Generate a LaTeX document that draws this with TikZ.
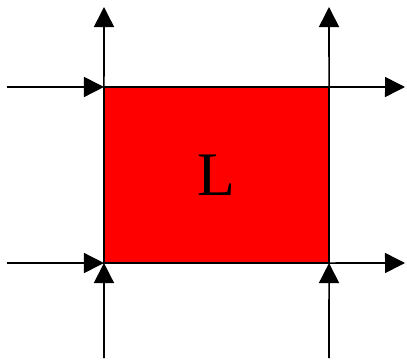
\documentclass[tikz,border=0pt]{standalone}
\usepackage{fontspec}
\setmainfont{Liberation Serif}
\usetikzlibrary{arrows.meta,positioning}

\begin{document}
\begin{tikzpicture}[
  x=0.025cm, y=-0.025cm,
  cell/.style={draw=black, fill=red, line width=1.1pt, minimum width=5.625cm, minimum height=4.4cm, inner sep=0pt, outer sep=0pt, font=\fontsize{44}{48}\selectfont},
  arrow/.style={-{Triangle[length=0.5cm, width=0.5cm]}, line width=1.1pt, draw=black}
]
\useasboundingbox (0,0) rectangle (407,361);
\node[cell] (L) at (216.5,175) {L};
% free ends
\coordinate (topA) at (104,7);
\coordinate (topB) at (329,7);
\coordinate (inA) at (7,87);
\coordinate (inB) at (7,263);
\coordinate (outA) at (405,87);
\coordinate (outB) at (405,263);
\coordinate (botA) at (104,358);
\coordinate (botB) at (329,358);
\draw[arrow] (L.north west) -- (topA);
\draw[arrow] (L.north east) -- (topB);
\draw[arrow] (inA) -- (L.north west);
\draw[arrow] (inB) -- (L.south west);
\draw[arrow] (L.north east) -- (outA);
\draw[arrow] (L.south east) -- (outB);
\draw[arrow] (botA) -- (L.south west);
\draw[arrow] (botB) -- (L.south east);
\end{tikzpicture}
\end{document}
